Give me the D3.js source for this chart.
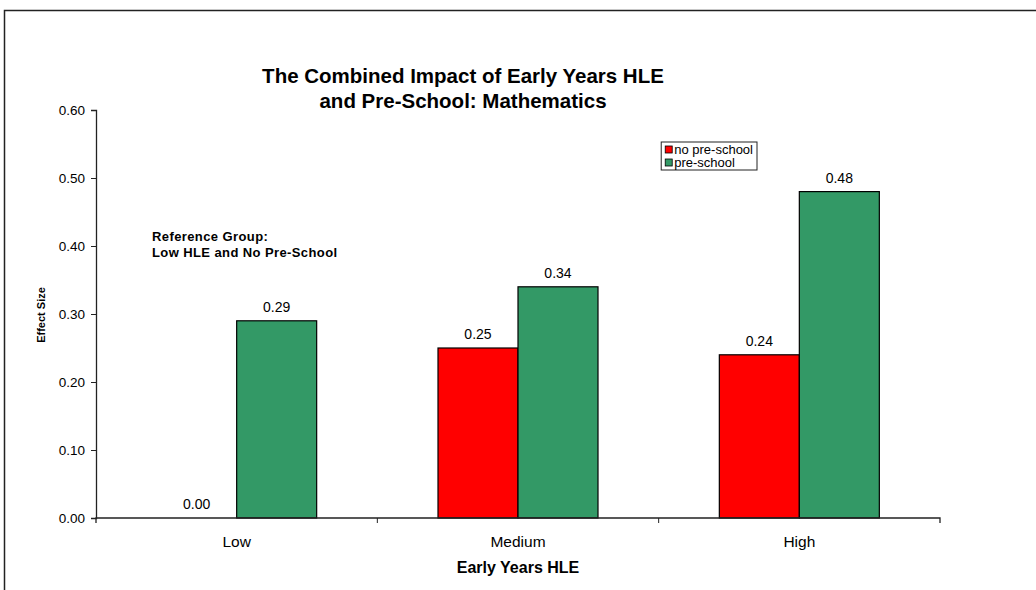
<!DOCTYPE html>
<html>
<head>
<meta charset="utf-8">
<script src="https://cdn.jsdelivr.net/npm/d3@7"></script>
<style>
  body { margin: 0; background: #fff; }
  svg text { font-family: Arial, "Liberation Sans", sans-serif; fill: #000; }
</style>
</head>
<body>
<div id="chart"></div>
<script>
// chart data
const categories = ["Low", "Medium", "High"];
const seriesNames = ["no pre-school", "pre-school"];
const noPreSchool = [0.00, 0.25, 0.24];
const preSchool = [0.29, 0.34, 0.48];
const yTicks = [0, 0.1, 0.2, 0.3, 0.4, 0.5, 0.6];

const WIDTH = 1036;
const HEIGHT = 590;
const MARGIN = { left: 96, top: 110, right: 96, bottom: 72 };
const COLORS = ["#ff0000", "#339966"];
const FONT = "Arial, 'Liberation Sans', sans-serif";

const svg = d3.select("#chart")
  .append("svg")
  .attr("width", WIDTH)
  .attr("height", HEIGHT);

// outer frame (only top and left edges show)
svg.append("path")
  .attr("d", `M4.5,${HEIGHT} V10.5 H${WIDTH}`)
  .attr("fill", "none")
  .attr("stroke", "#222")
  .attr("stroke-width", 1.5);

const plotW = 940 - MARGIN.left;
const plotH = 518 - MARGIN.top;

const g = svg.append("g")
  .attr("transform", `translate(${MARGIN.left}, ${MARGIN.top})`);

// scales
const x0 = d3.scaleBand()
  .domain(categories)
  .range([0, plotW]);

const x1 = d3.scaleBand()
  .domain(seriesNames)
  .range([x0.bandwidth() / 2 - 80, x0.bandwidth() / 2 + 80]);

const y = d3.scaleLinear()
  .domain([0, 0.6])
  .range([plotH, 0]);

// bars
const rows = categories.map((c, i) => ({
  cat: c,
  vals: [noPreSchool[i], preSchool[i]]
}));

const groups = g.selectAll("g.cat")
  .data(rows)
  .enter()
  .append("g")
  .attr("class", "cat")
  .attr("transform", d => `translate(${x0(d.cat)}, 0)`);

groups.selectAll("rect")
  .data(d => d.vals.map((v, j) => ({ v, s: seriesNames[j], j })))
  .enter()
  .filter(d => d.v > 0)
  .append("rect")
  .attr("x", d => x1(d.s))
  .attr("y", d => y(d.v))
  .attr("width", x1.bandwidth())
  .attr("height", d => plotH - y(d.v))
  .attr("fill", d => COLORS[d.j])
  .attr("stroke", "#000")
  .attr("stroke-width", 1.2);

// value labels
groups.selectAll("text.val")
  .data(d => d.vals.map((v, j) => ({ v, s: seriesNames[j] })))
  .enter()
  .append("text")
  .attr("class", "val")
  .attr("x", d => x1(d.s) + x1.bandwidth() / 2)
  .attr("y", d => y(d.v) - 9)
  .attr("text-anchor", "middle")
  .attr("font-size", 14)
  .text(d => d.v.toFixed(2));

// y axis
const yAxis = g.append("g")
  .call(d3.axisLeft(y).tickValues(yTicks).tickFormat(d3.format(".2f")).tickSize(5).tickPadding(6));
yAxis.select(".domain").attr("stroke", "#222").attr("stroke-width", 1.3);
yAxis.selectAll(".tick line").attr("stroke", "#222");
yAxis.selectAll("text").attr("font-size", 13.5).attr("font-family", FONT);

// x axis
const xAxis = g.append("g")
  .attr("transform", `translate(0, ${plotH})`)
  .call(d3.axisBottom(x0).tickSize(0).tickPadding(18));
xAxis.select(".domain").attr("stroke", "#222").attr("stroke-width", 1.3)
  .attr("d", `M0,5V0H${plotW}V5`);
xAxis.selectAll("text").attr("font-size", 15.5).attr("font-family", FONT);
// separators between categories
xAxis.selectAll("line.sep")
  .data(categories.slice(1))
  .enter()
  .append("line")
  .attr("class", "sep")
  .attr("x1", d => x0(d))
  .attr("x2", d => x0(d))
  .attr("y1", 0)
  .attr("y2", 5)
  .attr("stroke", "#222");

// axis titles
svg.append("text")
  .attr("x", MARGIN.left + plotW / 2)
  .attr("y", 573)
  .attr("text-anchor", "middle")
  .attr("font-size", 16)
  .attr("font-weight", "bold")
  .text("Early Years HLE");

svg.append("text")
  .attr("transform", `translate(45, 315) rotate(-90)`)
  .attr("text-anchor", "middle")
  .attr("font-size", 11)
  .attr("font-weight", "bold")
  .text("Effect Size");

// title
const title = svg.append("text")
  .attr("x", 463)
  .attr("text-anchor", "middle")
  .attr("font-size", 20.5)
  .attr("font-weight", "bold");
title.append("tspan").attr("x", 463).attr("y", 83).text("The Combined Impact of Early Years HLE");
title.append("tspan").attr("x", 463).attr("y", 108).text("and Pre-School: Mathematics");

// reference group note
const note = svg.append("text")
  .attr("font-size", 13)
  .attr("font-weight", "bold")
  .attr("letter-spacing", 0.4);
note.append("tspan").attr("x", 152).attr("y", 241).text("Reference Group:");
note.append("tspan").attr("x", 152).attr("y", 257).text("Low HLE and No Pre-School");

// legend, right edge sits at x = 757
const legend = svg.append("g");
const box = legend.append("rect")
  .attr("y", 142)
  .attr("height", 28)
  .attr("fill", "#fff")
  .attr("stroke", "#222");
const items = legend.selectAll("g.item")
  .data(seriesNames)
  .enter()
  .append("g")
  .attr("class", "item");
items.append("rect")
  .attr("width", 7)
  .attr("height", 7)
  .attr("fill", (d, i) => COLORS[i])
  .attr("stroke", "#000")
  .attr("stroke-width", 0.8);
items.append("text")
  .attr("x", 9)
  .attr("y", 8)
  .attr("font-size", 13)
  .text(d => d);
// size legend box to fit text
const maxW = d3.max(items.selectAll("text").nodes(), n => n.getComputedTextLength());
const boxW = maxW + 17;
const boxX = 757 - boxW;
box.attr("x", boxX).attr("width", boxW);
items.attr("transform", (d, i) => `translate(${boxX + 4}, ${146 + i * 13})`);
</script>
</body>
</html>
